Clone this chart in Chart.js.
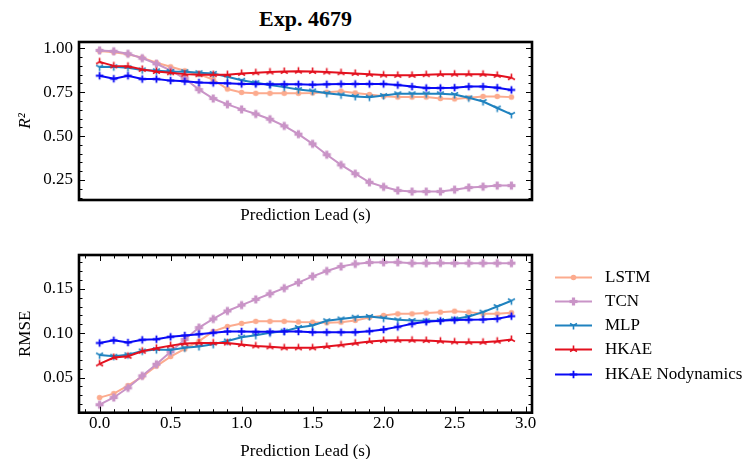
<!DOCTYPE html>
<html>
<head>
<meta charset="utf-8">
<script src="https://cdn.jsdelivr.net/npm/chart.js@4/dist/chart.umd.min.js"></script>
<style>
  html, body { margin: 0; padding: 0; background: #fff; overflow: hidden; }
  #wrap { position: relative; width: 744px; height: 459px; overflow: hidden; font-family: "Liberation Serif", "DejaVu Serif", serif; }
  #title { position: absolute; left: 79px; width: 453px; top: 6px; text-align: center; font-size: 22px; font-weight: bold; line-height: 26px; }
  #top { position: absolute; left: 0; top: 0; width: 744px; height: 230px; }
  #bottom { position: absolute; left: 0; top: 230px; width: 744px; height: 232px; }
  #legend { position: absolute; left: 555px; top: 265px; }
  .row { position: absolute; left: 0; height: 24px; width: 190px; }
  .row canvas { position: absolute; left: 0; top: 7px; }
  .row span { position: absolute; left: 50px; top: 0; font-size: 17px; line-height: 24px; white-space: nowrap; }
</style>
</head>
<body>
<div id="wrap">
  <div id="title">Exp. 4679</div>
  <div id="top"><canvas id="c1" width="744" height="230"></canvas></div>
  <div id="bottom"><canvas id="c2" width="744" height="232"></canvas></div>
  <div id="legend"></div>
</div>
<script>
// prediction lead (s)
const leads = [0.0, 0.1, 0.2, 0.3, 0.4, 0.5, 0.6, 0.7, 0.8, 0.9,
               1.0, 1.1, 1.2, 1.3, 1.4, 1.5, 1.6, 1.7, 1.8, 1.9,
               2.0, 2.1, 2.2, 2.3, 2.4, 2.5, 2.6, 2.7, 2.8, 2.9];

const models = ["LSTM", "TCN", "MLP", "HKAE", "HKAE Nodynamics"];
const colors = ["#fcab8e", "#c994c7", "#1f82bf", "#e3101e", "#0a0af5"];

// R^2
const r2Lstm = [0.985, 0.978, 0.966, 0.946, 0.918, 0.895, 0.872, 0.852, 0.822, 0.768,
                0.749, 0.744, 0.744, 0.744, 0.744, 0.746, 0.750, 0.756, 0.746, 0.737,
                0.727, 0.722, 0.722, 0.722, 0.714, 0.712, 0.718, 0.726, 0.726, 0.722];
const r2Tcn = [0.988, 0.983, 0.969, 0.944, 0.912, 0.875, 0.828, 0.765, 0.714, 0.681,
               0.652, 0.626, 0.596, 0.558, 0.511, 0.456, 0.394, 0.336, 0.286, 0.237,
               0.211, 0.190, 0.184, 0.184, 0.184, 0.195, 0.207, 0.212, 0.218, 0.218];
const r2Mlp = [0.893, 0.895, 0.889, 0.877, 0.872, 0.868, 0.867, 0.861, 0.857, 0.838,
               0.818, 0.804, 0.791, 0.779, 0.765, 0.757, 0.744, 0.735, 0.726, 0.722,
               0.731, 0.741, 0.741, 0.741, 0.741, 0.737, 0.718, 0.697, 0.660, 0.624];
const r2Hkae = [0.923, 0.900, 0.898, 0.880, 0.868, 0.861, 0.853, 0.850, 0.850, 0.850,
                0.857, 0.861, 0.865, 0.868, 0.870, 0.868, 0.865, 0.861, 0.857, 0.852,
                0.848, 0.846, 0.846, 0.850, 0.852, 0.853, 0.853, 0.852, 0.846, 0.833];
const r2Nodyn = [0.844, 0.827, 0.844, 0.825, 0.825, 0.816, 0.812, 0.806, 0.803, 0.801,
                 0.797, 0.797, 0.795, 0.795, 0.795, 0.793, 0.795, 0.797, 0.797, 0.797,
                 0.797, 0.791, 0.782, 0.774, 0.774, 0.776, 0.782, 0.782, 0.776, 0.763];

// RMSE
const rmseLstm = [0.0275, 0.032, 0.041, 0.051, 0.063, 0.0737, 0.0823, 0.091, 0.102, 0.1075,
                  0.111, 0.1133, 0.1133, 0.1133, 0.1126, 0.1124, 0.1117, 0.1124, 0.1143, 0.1177,
                  0.120, 0.1218, 0.1218, 0.1226, 0.1237, 0.1248, 0.1237, 0.1218, 0.1218, 0.123];
const rmseTcn = [0.0195, 0.0276, 0.0385, 0.052, 0.065, 0.079, 0.093, 0.1063, 0.116, 0.125,
                 0.1316, 0.138, 0.1444, 0.1507, 0.157, 0.164, 0.170, 0.175, 0.178, 0.1795,
                 0.1798, 0.1798, 0.1788, 0.1788, 0.179, 0.1788, 0.1788, 0.1788, 0.1788, 0.1788];
const rmseMlp = [0.0755, 0.074, 0.0757, 0.080, 0.0815, 0.081, 0.0835, 0.085, 0.0875, 0.0912,
                 0.0955, 0.0976, 0.1004, 0.1023, 0.1064, 0.1086, 0.114, 0.116, 0.118, 0.1188,
                 0.117, 0.115, 0.1143, 0.114, 0.1143, 0.116, 0.1188, 0.1237, 0.130, 0.1365];
const rmseHkae = [0.0654, 0.0726, 0.074, 0.0797, 0.083, 0.086, 0.0883, 0.089, 0.089, 0.089,
                  0.0872, 0.0857, 0.0846, 0.0835, 0.0835, 0.0835, 0.085, 0.0868, 0.0887, 0.0906,
                  0.0917, 0.0921, 0.0921, 0.0917, 0.091, 0.0902, 0.0898, 0.0898, 0.091, 0.0929];
const rmseNodyn = [0.089, 0.092, 0.0895, 0.0925, 0.0932, 0.0959, 0.0974, 0.0989, 0.1004, 0.1019,
                   0.1019, 0.1015, 0.1015, 0.1019, 0.1019, 0.1011, 0.1011, 0.1011, 0.1011, 0.1023,
                   0.1041, 0.1071, 0.1105, 0.1128, 0.1139, 0.1147, 0.115, 0.1154, 0.1162, 0.1192];

// ticks
const xTicks = [0.0, 0.5, 1.0, 1.5, 2.0, 2.5, 3.0];
const xMinor = [-0.1, 0.1, 0.2, 0.3, 0.4, 0.6, 0.7, 0.8, 0.9, 1.1, 1.2, 1.3, 1.4, 1.6, 1.7, 1.8, 1.9,
                2.1, 2.2, 2.3, 2.4, 2.6, 2.7, 2.8, 2.9];
const r2Ticks = [0.25, 0.50, 0.75, 1.00];
const r2Minor = [0.15, 0.20, 0.30, 0.35, 0.40, 0.45, 0.55, 0.60, 0.65, 0.70, 0.80, 0.85, 0.90, 0.95];
const rmseTicks = [0.05, 0.10, 0.15];
const rmseMinor = [0.02, 0.03, 0.04, 0.06, 0.07, 0.08, 0.09, 0.11, 0.12, 0.13, 0.14, 0.16, 0.17, 0.18];

const FONT = "'Liberation Serif', 'DejaVu Serif', serif";

function makeMarker(kind, color) {
    const s = 11;
    const c = document.createElement('canvas');
    c.width = s; c.height = s;
    const g = c.getContext('2d');
    g.translate(s / 2, s / 2);
    g.fillStyle = color;
    g.strokeStyle = color;
    g.lineWidth = 1.6;
    g.beginPath();
    if (kind === 'circle') {
        g.arc(0, 0, 2.8, 0, Math.PI * 2);
        g.fill();
    } else if (kind === 'plusFilled') {
        g.fillRect(-4, -1.6, 8, 3.2);
        g.fillRect(-1.6, -4, 3.2, 8);
    } else if (kind === 'triDown') {
        g.moveTo(0, 0); g.lineTo(0, 4);
        g.moveTo(0, 0); g.lineTo(-3.5, -2);
        g.moveTo(0, 0); g.lineTo(3.5, -2);
        g.stroke();
    } else if (kind === 'triUp') {
        g.moveTo(0, 0); g.lineTo(0, -4);
        g.moveTo(0, 0); g.lineTo(-3.5, 2);
        g.moveTo(0, 0); g.lineTo(3.5, 2);
        g.stroke();
    } else if (kind === 'plus') {
        g.lineWidth = 1.8;
        g.moveTo(-3.8, 0); g.lineTo(3.8, 0);
        g.moveTo(0, -3.8); g.lineTo(0, 3.8);
        g.stroke();
    }
    return c;
}

const markerKinds = ['circle', 'plusFilled', 'triDown', 'triUp', 'plus'];
const markers = markerKinds.map((k, i) => makeMarker(k, colors[i]));

function buildDatasets(series) {
    return series.map((vals, i) => ({
        label: models[i],
        data: leads.map((x, j) => ({x: x, y: vals[j]})),
        borderColor: colors[i],
        backgroundColor: colors[i],
        borderWidth: 2,
        pointStyle: markers[i],
        pointRadius: 4,
        tension: 0,
        order: models.length - i
    }));
}

// ticks pointing inward, drawn from the library's own scales
const insideTicks = {
    id: 'insideTicks',
    afterDraw(chart, args, opts) {
        const ctx = chart.ctx;
        const a = chart.chartArea;
        ctx.save();
        ctx.strokeStyle = '#000';
        ctx.lineWidth = 1;
        const ys = chart.scales.y, xs = chart.scales.x;
        const yMarks = [[opts.yMajor, 6], [opts.yMinor, 3.5]];
        yMarks.forEach(([vals, len]) => {
            vals.forEach(v => {
                const p = Math.round(ys.getPixelForValue(v)) + 0.5;
                ctx.beginPath();
                ctx.moveTo(a.left, p); ctx.lineTo(a.left + len, p);
                ctx.moveTo(a.right, p); ctx.lineTo(a.right - len, p);
                ctx.stroke();
            });
        });
        if (opts.xMajor) {
            const xMarks = [[opts.xMajor, 6], [opts.xMinor, 3.5]];
            xMarks.forEach(([vals, len]) => {
                vals.forEach(v => {
                    const p = Math.round(xs.getPixelForValue(v)) + 0.5;
                    ctx.beginPath();
                    ctx.moveTo(p, a.bottom); ctx.lineTo(p, a.bottom - len);
                    ctx.moveTo(p, a.top); ctx.lineTo(p, a.top + len);
                    ctx.stroke();
                });
            });
        }
        ctx.lineWidth = 2.6;
        ctx.strokeRect(a.left, a.top, a.right - a.left, a.bottom - a.top);
        ctx.restore();
    }
};

function setupChart(id, series, cfg) {
    const ctx = document.getElementById(id);
    const config = {
        type: 'line',
        data: { datasets: buildDatasets(series) },
        options: {
            responsive: false,
            animation: false,
            layout: { padding: { left: 0, right: 212, top: cfg.top, bottom: 0 } },
            plugins: {
                legend: { display: false },
                tooltip: { enabled: false },
                insideTicks: cfg.ticks
            },
            scales: {
                x: {
                    type: 'linear',
                    min: -0.145,
                    max: 3.045,
                    grid: { display: false, drawTicks: false },
                    border: { display: false },
                    afterBuildTicks: s => { s.ticks = xTicks.map(v => ({value: v})); },
                    afterFit: s => { s.height = cfg.xHeight; },
                    ticks: {
                        display: cfg.xLabels,
                        padding: 1,
                        color: '#000',
                        font: { family: FONT, size: 17 },
                        callback: v => Number(v).toFixed(1)
                    },
                    title: {
                        display: true,
                        text: 'Prediction Lead (s)',
                        color: '#000',
                        font: { family: FONT, size: 17 },
                        padding: { top: 0, bottom: cfg.titlePad }
                    }
                },
                y: {
                    min: cfg.yMin,
                    max: cfg.yMax,
                    grid: { display: false, drawTicks: false },
                    border: { display: false },
                    afterBuildTicks: s => { s.ticks = cfg.yTicks.map(v => ({value: v})); },
                    afterFit: s => { s.width = 79; },
                    ticks: {
                        padding: 6,
                        color: '#000',
                        font: { family: FONT, size: 17 },
                        callback: v => Number(v).toFixed(2)
                    },
                    title: {
                        display: true,
                        text: cfg.yTitle,
                        color: '#000',
                        font: { family: FONT, size: 17, style: cfg.yItalic ? 'italic' : 'normal' },
                        padding: { top: 15, bottom: 0 }
                    }
                }
            }
        },
        plugins: [insideTicks]
    };
    return new Chart(ctx, config);
}

setupChart('c1', [r2Lstm, r2Tcn, r2Mlp, r2Hkae, r2Nodyn], {
    top: 42, xHeight: 30, titlePad: 4, xLabels: false,
    yMin: 0.136, yMax: 1.036, yTicks: r2Ticks, yTitle: 'R²', yItalic: true,
    ticks: { yMajor: r2Ticks, yMinor: r2Minor }
});

setupChart('c2', [rmseLstm, rmseTcn, rmseMlp, rmseHkae, rmseNodyn], {
    top: 25, xHeight: 49.3, titlePad: 0.5, xLabels: true,
    yMin: 0.0105, yMax: 0.188, yTicks: rmseTicks, yTitle: 'RMSE', yItalic: false,
    ticks: { yMajor: rmseTicks, yMinor: rmseMinor, xMajor: xTicks, xMinor: xMinor }
});

// legend
const legend = document.getElementById('legend');
const rowTops = [0, 24, 48, 72.3, 97.3];
models.forEach((name, i) => {
    const row = document.createElement('div');
    row.className = 'row';
    row.style.top = rowTops[i] + 'px';
    const c = document.createElement('canvas');
    c.width = 38; c.height = 11;
    const g = c.getContext('2d');
    g.strokeStyle = colors[i];
    g.lineWidth = 2;
    g.beginPath();
    g.moveTo(0, 5.5); g.lineTo(37, 5.5);
    g.stroke();
    g.drawImage(markers[i], 18.5 - 5.5, 0);
    const t = document.createElement('span');
    t.textContent = name;
    row.appendChild(c);
    row.appendChild(t);
    legend.appendChild(row);
});
</script>
</body>
</html>
